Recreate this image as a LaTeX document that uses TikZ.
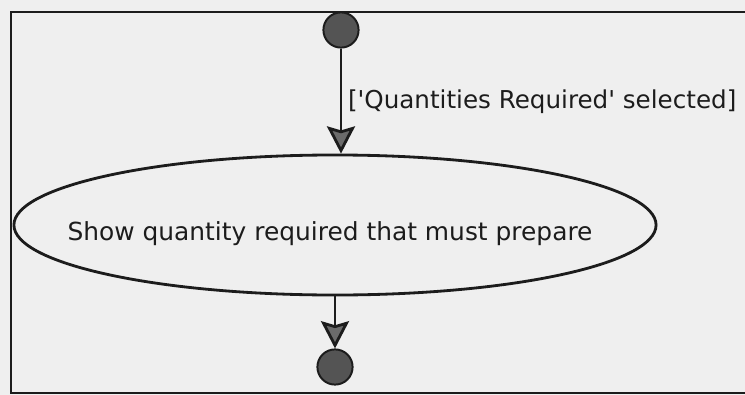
\documentclass[tikz,border=0pt]{standalone}
\usepackage{fontspec}
\setmainfont{DejaVu Sans}
\usepackage{tikz}
\usetikzlibrary{positioning, arrows.meta, shapes.geometric}
\definecolor{scanpaper}{HTML}{EFEFEF}
\definecolor{umlink}{HTML}{1C1C1C}
\definecolor{umldot}{HTML}{545454}
\definecolor{umlhead}{HTML}{6B6B6B}
\tikzset{
  >={Stealth[length=6.8mm, width=7mm, inset=1mm, fill=umlhead]},
  every node/.style={font=\fontsize{17.7}{21}\selectfont, text=umlink},
  pseudostate/.style={
    circle, draw=umlink, fill=umldot, line width=1.4pt,
    minimum size=0.88cm, inner sep=0pt
  },
  activity/.style={
    ellipse, draw=umlink, line width=2pt,
    minimum width=16.05cm, minimum height=3.5cm, inner sep=0pt
  },
  flowarrow/.style={->, umlink, line width=2pt},
  guardlabel/.style={anchor=base west, inner sep=0pt,
    font=\fontsize{17.5}{21}\selectfont},
  framebox/.style={umlink, line width=1.4pt}
}

\begin{document}
\begin{tikzpicture}[x=0.025cm, y=-0.025cm]

% ── Page (scanned paper) and frame ──────────────────────────────────────────
\useasboundingbox (0,0) rectangle (745,395);
\fill[scanpaper] (0,0) rectangle (745,395);
\draw[framebox] (745,12) -- (11,12) -- (11,393) -- (745,393);

% ── Initial node, activity, final node ──────────────────────────────────────
\node[pseudostate] (start) at (341, 30) {};
\node[activity] (act) at (335, 225) {};
\node[anchor=base, inner sep=0pt] (actlabel) at (330, 240)
  {Show quantity required that must prepare};
\node[pseudostate] (finish) at (335, 367) {};

% ── Transitions ─────────────────────────────────────────────────────────────
\draw[flowarrow] (start.south) -- (start.south |- act.north)
  node[pos=0.5, guardlabel, xshift=4pt, yshift=-5pt] (guard)
  {[\textquotesingle Quantities Required\textquotesingle\ selected]};
\draw[flowarrow] (act.south) -- (finish.north);

\end{tikzpicture}
\end{document}
